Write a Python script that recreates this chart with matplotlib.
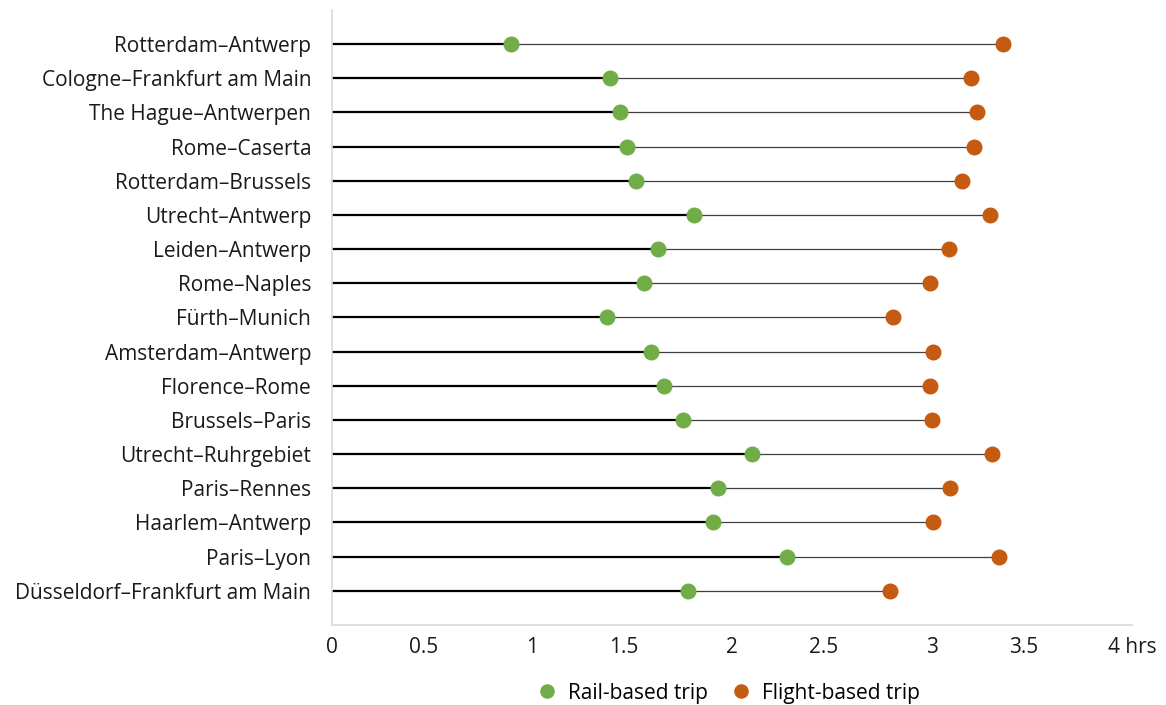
import matplotlib.pyplot as plt
from matplotlib.transforms import ScaledTranslation

plt.rcParams['font.family'] = ['Open Sans', 'DejaVu Sans']

routes = [
    "Rotterdam–Antwerp", "Cologne–Frankfurt am Main", "The Hague–Antwerpen",
    "Rome–Caserta", "Rotterdam–Brussels", "Utrecht–Antwerp", "Leiden–Antwerp",
    "Rome–Naples", "Fürth–Munich", "Amsterdam–Antwerp", "Florence–Rome",
    "Brussels–Paris", "Utrecht–Ruhrgebiet", "Paris–Rennes", "Haarlem–Antwerp",
    "Paris–Lyon", "Düsseldorf–Frankfurt am Main",
]
rail = [0.895, 1.39, 1.44, 1.475, 1.52, 1.81, 1.63, 1.56, 1.375, 1.595,
        1.66, 1.755, 2.10, 1.93, 1.905, 2.275, 1.78]
flight = [3.355, 3.195, 3.225, 3.21, 3.15, 3.29, 3.085, 2.99, 2.805, 3.005,
          2.99, 3.0, 3.30, 3.09, 3.005, 3.335, 2.79]
xticks = [0, 0.5, 1, 1.5, 2, 2.5, 3, 3.5, 4]
xticklabels = ["0", "0.5", "1", "1.5", "2", "2.5", "3", "3.5", "4 hrs"]

green = "#70ad47"
orange = "#c55a11"

fig = plt.figure(figsize=(11.66, 7.05), dpi=100)
ax = fig.add_axes([0.2847, 0.1135, 0.686, 0.8725])

ys = list(range(len(routes)))
ax.hlines(ys, 0, rail, color="black", lw=1.6, zorder=1)  # start -> rail
ax.hlines(ys, rail, flight, color="#404040", lw=0.9, zorder=1)  # rail -> flight
ax.plot(rail, ys, "o", color=green, ms=10.5, zorder=3, label="Rail-based trip")
ax.plot(flight, ys, "o", color=orange, ms=10.5, zorder=3, label="Flight-based trip")

ax.set_ylim(len(routes), -1)
ax.set_xlim(0, 4)
ax.set_yticks(ys)
ax.set_yticklabels(routes, fontsize=15, color="#1a1a1a")
ax.set_xticks(xticks)
ax.set_xticklabels(xticklabels, fontsize=15, color="#1a1a1a")
ax.tick_params(axis="y", length=0, pad=15)
ax.tick_params(axis="x", length=0, pad=9)

# the half-hour labels sit a little left of their ticks in the original
shift = ScaledTranslation(-8.5 / 100, 0, fig.dpi_scale_trans)
for lab in ax.get_xticklabels():
    if ".5" in lab.get_text():
        lab.set_transform(lab.get_transform() + shift)

for s in ["top", "right"]:
    ax.spines[s].set_visible(False)
for s in ["left", "bottom"]:
    ax.spines[s].set_color("#d9d9d9")
    ax.spines[s].set_linewidth(1.2)

fig.legend(loc="center", bbox_to_anchor=(0.62, 0.017), ncol=2, frameon=False,
           fontsize=15, handletextpad=0.0, columnspacing=0.6, markerscale=0.9)

plt.savefig("out.png", dpi=100)
